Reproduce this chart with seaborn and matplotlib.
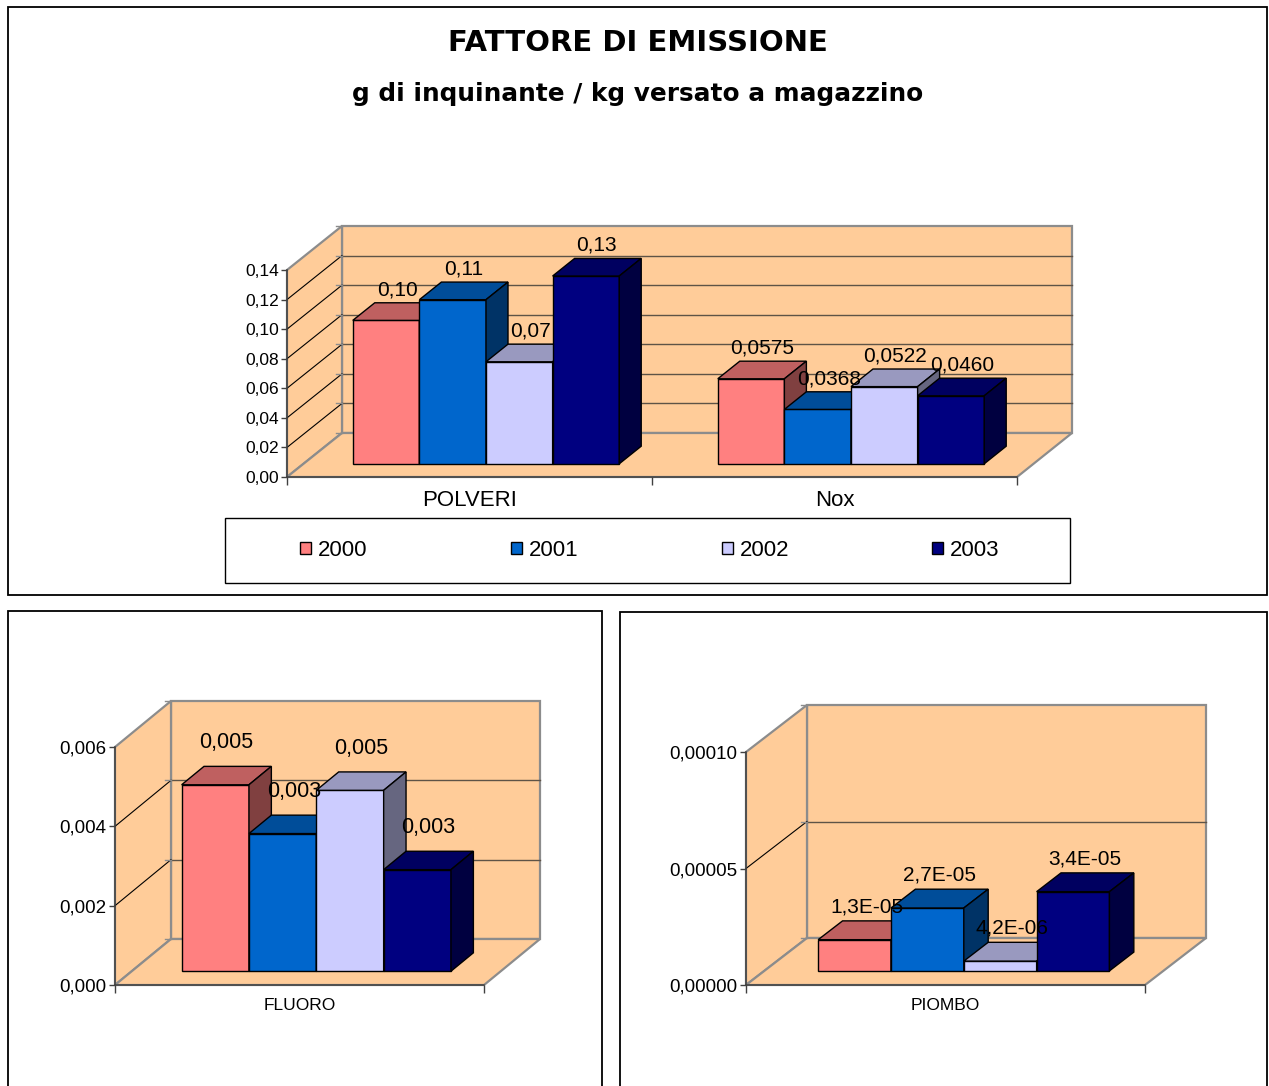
import numpy as np
import pandas as pd
import matplotlib
matplotlib.use("Agg")
import matplotlib.pyplot as plt
from matplotlib.patches import Polygon, Rectangle
from matplotlib.lines import Line2D
from matplotlib.ticker import FuncFormatter
from matplotlib.colors import to_rgb
import seaborn as sns

plt.rcParams["font.family"] = ["Liberation Sans", "DejaVu Sans"]

W, H, DPI = 1269, 1086, 100

# ---- data -------------------------------------------------------------
years = ["2000", "2001", "2002", "2003"]
year_colors = ["#FF8080", "#0066CC", "#CCCCFF", "#000080"]

main_categories = ["POLVERI", "Nox"]
polveri_values = [0.097, 0.111, 0.069, 0.127]
nox_values = [0.0575, 0.0368, 0.0522, 0.0460]
main_label_decimals = [2, 4]
main_yticks = [0.00, 0.02, 0.04, 0.06, 0.08, 0.10, 0.12, 0.14]

fluoro_category = ["FLUORO"]
fluoro_values = [0.0047, 0.00347, 0.00456, 0.00256]
fluoro_yticks = [0.000, 0.002, 0.004, 0.006]

piombo_category = ["PIOMBO"]
piombo_values = [1.34e-5, 2.7e-5, 4.2e-6, 3.4e-5]
piombo_yticks = [0.00000, 0.00005, 0.00010]

WALL = "#FFCC99"
WALL_EDGE = "#8c8c8c"
GRID = "#5e5346"
AXIS = "#404040"


def fig_box(x0, y0, x1, y1):
    """Pixel box (top-left origin) -> figure fraction rect."""
    return [x0 / W, 1 - y1 / H, (x1 - x0) / W, (y1 - y0) / H]


def shade(color, f):
    r, g, b = to_rgb(color)
    return (r * f, g * f, b * f)


def comma(s):
    return s.replace(".", ",")


def make_frame(cats, values_by_cat):
    rows = []
    for c, vals in zip(cats, values_by_cat):
        for y, v in zip(years, vals):
            rows.append({"categoria": c, "anno": y, "valore": v})
    return pd.DataFrame(rows)


def chart(ax, df, cats, yticks, tick_fmt, label_fmt, depth_px,
          tick_size, label_size, cat_size, cat_pad, label_dy_px=0,
          legend=False):
    sns.barplot(data=df, x="categoria", y="valore", hue="anno",
                order=cats, hue_order=years,
                palette=dict(zip(years, year_colors)), saturation=1,
                width=0.73, edgecolor="black", linewidth=1,
                errorbar=None, legend=legend, ax=ax)
    bars = sorted([p for p in ax.patches
                   if isinstance(p, Rectangle) and p.get_height() > 0
                   and p.get_width() > 0],
                  key=lambda p: p.get_x())
    handles = labels = None
    if legend:
        handles, labels = ax.get_legend_handles_labels()
        ax.get_legend().remove()

    n = len(cats)
    ax.set_xlim(-0.5, n - 0.5)
    ax.set_ylim(yticks[0], yticks[-1])
    ax.set_facecolor("none")
    ax.set_xlabel("")
    ax.set_ylabel("")

    xmin, xmax = ax.get_xlim()
    ymin, ymax = ax.get_ylim()
    bb = ax.get_position()
    ppx = bb.width * W / (xmax - xmin)
    ppy = bb.height * H / (ymax - ymin)
    ddx, ddy = depth_px[0] / ppx, depth_px[1] / ppy

    # walls and floor
    back = Polygon([(xmin + ddx, ymin + ddy), (xmax + ddx, ymin + ddy),
                    (xmax + ddx, ymax + ddy), (xmin + ddx, ymax + ddy)],
                   closed=True, fc=WALL, ec=WALL_EDGE, lw=1.6, zorder=0.5,
                   clip_on=False)
    side = Polygon([(xmin, ymin), (xmin + ddx, ymin + ddy),
                    (xmin + ddx, ymax + ddy), (xmin, ymax)],
                   closed=True, fc=WALL, ec=WALL_EDGE, lw=1.6, zorder=0.5,
                   clip_on=False)
    floor = Polygon([(xmin, ymin), (xmax, ymin),
                     (xmax + ddx, ymin + ddy), (xmin + ddx, ymin + ddy)],
                    closed=True, fc=WALL, ec=WALL_EDGE, lw=1.6, zorder=0.5,
                    clip_on=False)
    for p in (back, side, floor):
        ax.add_patch(p)

    # gridlines on side and back walls
    for t in yticks:
        if ymin < t < ymax:
            ax.add_line(Line2D([xmin, xmin + ddx], [t, t + ddy], color="black",
                               lw=0.8, zorder=0.7, clip_on=False))
            ax.add_line(Line2D([xmin + ddx, xmax + ddx], [t + ddy, t + ddy],
                               color=GRID, lw=1.0, zorder=0.7,
                               clip_on=False))
        ax.add_line(Line2D([xmin + ddx - 6 / ppx, xmin + ddx], [t + ddy, t + ddy],
                           color=WALL_EDGE, lw=1, zorder=0.7, clip_on=False))

    # 3D bars: front face pushed into depth, then top and side faces
    front, depth = 0.3, 0.4
    for i, b in enumerate(bars):
        x0 = b.get_x() + front * ddx
        y0 = front * ddy
        w, h = b.get_width(), b.get_height()
        fc = b.get_facecolor()
        b.set_xy((x0, y0))
        b.set_zorder(3 + i)
        b.set_clip_on(False)
        top = Polygon([(x0, y0 + h), (x0 + w, y0 + h),
                       (x0 + w + depth * ddx, y0 + h + depth * ddy),
                       (x0 + depth * ddx, y0 + h + depth * ddy)],
                      closed=True, fc=shade(fc, 0.75), ec="black", lw=1,
                      zorder=3 + i, clip_on=False)
        sd = Polygon([(x0 + w, y0), (x0 + w + depth * ddx, y0 + depth * ddy),
                      (x0 + w + depth * ddx, y0 + h + depth * ddy),
                      (x0 + w, y0 + h)],
                     closed=True, fc=shade(fc, 0.5), ec="black", lw=1,
                     zorder=3 + i, clip_on=False)
        ax.add_patch(top)
        ax.add_patch(sd)
        cat_idx = int(round(x0 - front * ddx + w / 2))
        ax.text(x0 + w / 2 + 0.2 * ddx,
                y0 + h + 0.7 * ddy + label_dy_px / ppy,
                label_fmt(h, cat_idx), ha="center", va="center",
                fontsize=label_size, zorder=30, clip_on=False)

    # axes styling
    for s in ("top", "right"):
        ax.spines[s].set_visible(False)
    for s in ("left", "bottom"):
        ax.spines[s].set_color(AXIS)
        ax.spines[s].set_linewidth(1.1)
        ax.spines[s].set_zorder(2)
    ax.set_yticks(yticks)
    ax.yaxis.set_major_formatter(FuncFormatter(lambda v, _: tick_fmt(v)))
    ax.tick_params(axis="y", length=4, width=1, color=AXIS, pad=2,
                   labelsize=tick_size)
    ax.set_xticks(np.arange(-0.5, n, 1.0), minor=True)
    ax.tick_params(axis="x", which="minor", length=6, width=1, color=AXIS)
    ax.tick_params(axis="x", which="major", length=0, pad=cat_pad,
                   labelsize=cat_size)
    return handles, labels


fig = plt.figure(figsize=(W / DPI, H / DPI), dpi=DPI)

# panel borders
for (x0, y0, x1, y1) in [(8, 7, 1267, 595), (8, 611, 602, 1092),
                         (620, 612, 1267, 1092)]:
    fig.add_artist(Rectangle((x0 / W, 1 - y1 / H), (x1 - x0) / W,
                             (y1 - y0) / H, transform=fig.transFigure,
                             fill=False, ec="black", lw=1.3))

# titles
fig.text(638 / W, 1 - 43 / H, "FATTORE DI EMISSIONE", ha="center",
         va="center", fontsize=21, fontweight="bold", family="DejaVu Sans")
fig.text(638 / W, 1 - 94 / H, "g di inquinante / kg versato a magazzino",
         ha="center", va="center", fontsize=17.8, fontweight="bold",
         family="DejaVu Sans")

# main chart
df_main = make_frame(main_categories, [polveri_values, nox_values])
ax_main = fig.add_axes(fig_box(287, 270, 1017, 477))
handles, labels = chart(
    ax_main, df_main, main_categories, main_yticks,
    tick_fmt=lambda v: comma(f"{v:.2f}"),
    label_fmt=lambda v, c: comma(f"{v:.{main_label_decimals[c]}f}"),
    depth_px=(55, 44), tick_size=12.5, label_size=15, cat_size=16,
    cat_pad=9.0, legend=True)

# legend box
fig.add_artist(Rectangle((225 / W, 1 - 583 / H), 845 / W, 65 / H,
                         transform=fig.transFigure, fill=False, ec="black",
                         lw=1))
fig.legend(handles, labels, loc="center",
           bbox_to_anchor=(650 / W, 1 - 550.5 / H), ncol=4, frameon=False,
           fontsize=16, handlelength=0.5, handleheight=0.5,
           handletextpad=0.3, columnspacing=6.45)

# fluoro chart
df_f = make_frame(fluoro_category, [fluoro_values])
ax_f = fig.add_axes(fig_box(115, 747, 484, 985))
chart(ax_f, df_f, fluoro_category, fluoro_yticks,
      tick_fmt=lambda v: comma(f"{v:.3f}"),
      label_fmt=lambda v, c: comma(f"{v:.3f}"),
      depth_px=(56, 46), tick_size=13.5, label_size=15.5, cat_size=12.5,
      cat_pad=9.4, label_dy_px=10)

# piombo chart
df_p = make_frame(piombo_category, [piombo_values])
ax_p = fig.add_axes(fig_box(746, 752, 1145, 985))
chart(ax_p, df_p, piombo_category, piombo_yticks,
      tick_fmt=lambda v: comma(f"{v:.5f}"),
      label_fmt=lambda v, c: comma(f"{v:.1E}"),
      depth_px=(61, 47), tick_size=13.5, label_size=15, cat_size=12.5,
      cat_pad=9.4)

fig.savefig("out.png", dpi=DPI)
